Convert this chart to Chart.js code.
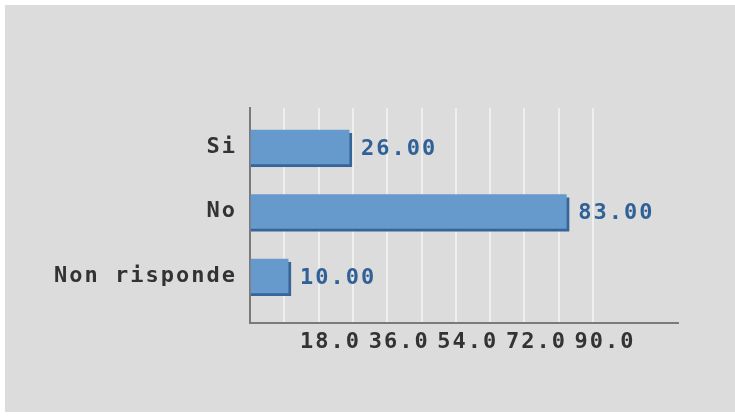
<!DOCTYPE html>
<html>
<head>
<meta charset="utf-8">
<script src="https://cdn.jsdelivr.net/npm/chart.js@4.4.0/dist/chart.umd.min.js"></script>
<style>
 html, body { margin:0; padding:0; background:#ffffff; }
 #box { position:absolute; left:5px; top:5px; width:730px; height:407px; background:#dcdcdc; }
</style>
</head>
<body>
<div id="box"><canvas id="myChart" width="730" height="407"></canvas></div>
<script>
var categories = ['Si', 'No', 'Non risponde'];
var values = [26, 83, 10];
var xTickLabels = [18, 36, 54, 72, 90];
var gridStep = 9;
var gridMax = 90;

var barColor = '#6699cc';
var shadowColor = '#36659a';
var valueColor = '#2f6198';
var textColor = '#333333';
var axisColor = '#7a7a7a';

Chart.defaults.font.family = "'DejaVu Sans Mono', monospace";
Chart.defaults.font.size = 22;
Chart.defaults.font.weight = 'bold';

// spacing between letters, the original font is wide
function spacing(chart){ chart.ctx.letterSpacing = '2px'; }

var barExtras = {
  id: 'barExtras',
  beforeUpdate: spacing,
  beforeLayout: spacing,
  beforeDraw: spacing,
  beforeDatasetsDraw: function(chart){
    var ctx = chart.ctx;
    var meta = chart.getDatasetMeta(0);
    ctx.save();
    ctx.fillStyle = shadowColor;
    meta.data.forEach(function(bar){
      var p = bar.getProps(['x','y','base','height'], true);
      ctx.fillRect(p.base, p.y - p.height/2 + 3, p.x - p.base + 3, p.height);
    });
    ctx.restore();
  },
  afterDatasetsDraw: function(chart){
    var ctx = chart.ctx;
    var meta = chart.getDatasetMeta(0);
    ctx.save();
    ctx.letterSpacing = '2px';
    ctx.font = "bold 22px 'DejaVu Sans Mono', monospace";
    ctx.fillStyle = valueColor;
    ctx.textAlign = 'left';
    ctx.textBaseline = 'middle';
    meta.data.forEach(function(bar, i){
      var p = bar.getProps(['x','y'], true);
      ctx.fillText(values[i].toFixed(2), p.x + 12, p.y + 2);
    });
    ctx.restore();
  }
};

var ctx = document.getElementById('myChart').getContext('2d');
var data = {
  datasets: [{
    label: 'Risposte',
    data: categories.map(function(c, i){ return {x: values[i], y: i}; }),
    backgroundColor: barColor,
    borderWidth: 0,
    barThickness: 34
  }]
};

var myChart = new Chart(ctx, {
  type: 'bar',
  data: data,
  plugins: [barExtras],
  options: {
    indexAxis: 'y',
    responsive: false,
    animation: false,
    devicePixelRatio: 1,
    layout: { padding: { left: 0, top: 103, right: 57, bottom: 0 } },
    plugins: { legend: { display: false }, tooltip: { enabled: false } },
    scales: {
      x: {
        type: 'linear',
        min: 0,
        max: 112.3,
        afterFit: function(s){ s.height = 89; },
        grid: {
          drawTicks: false,
          lineWidth: 2,
          color: function(c){
            var v = c.tick ? c.tick.value : 0;
            return (v > 0 && v <= gridMax && v % gridStep === 0) ? '#efefef' : 'rgba(0,0,0,0)';
          }
        },
        border: { display: true, color: axisColor, width: 2 },
        ticks: {
          stepSize: gridStep,
          autoSkip: false,
          maxRotation: 0,
          padding: 6,
          labelOffset: 12,
          color: textColor,
          callback: function(v){ return xTickLabels.indexOf(v) >= 0 ? v.toFixed(1) : ''; }
        }
      },
      y: {
        type: 'linear',
        offset: false,
        reverse: true,
        min: -0.605,
        max: 2.729,
        afterFit: function(s){ s.width = 245; },
        grid: { display: false, drawTicks: false },
        border: { display: true, color: axisColor, width: 2 },
        ticks: {
          stepSize: 1,
          autoSkip: false,
          padding: 13,
          color: textColor,
          callback: function(v){ return Number.isInteger(v) && categories[v] ? categories[v] : ''; }
        }
      }
    }
  }
});
</script>
</body>
</html>
